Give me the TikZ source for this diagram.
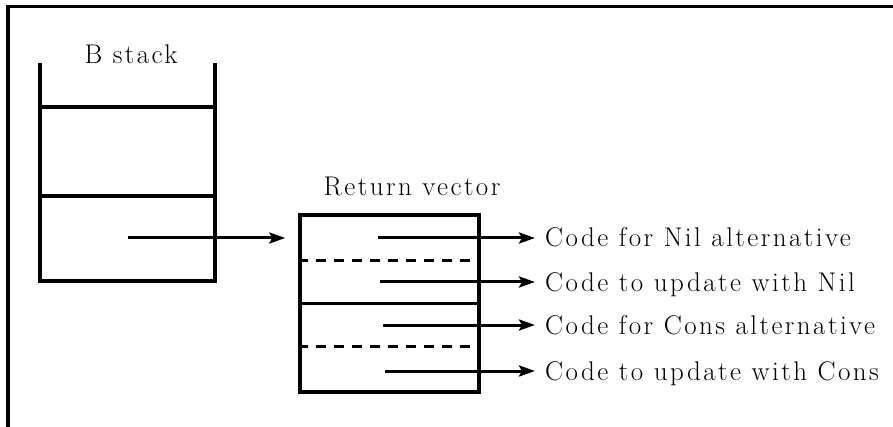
\documentclass[tikz,border=0pt]{standalone}
\usepackage{fontspec}
\setmainfont{Latin Modern Roman}[LetterSpace=9]
\usetikzlibrary{arrows.meta}
\begin{document}
\begin{tikzpicture}[x=1pt,y=-1pt,
  frameline/.style={line width=3.5pt},
  stackline/.style={line width=4pt},
  boxline/.style={line width=3.5pt},
  innersolid/.style={line width=3pt},
  innerdash/.style={line width=3pt, dash pattern=on 10pt off 8pt},
  arr/.style={line width=3pt, -{Stealth[length=16pt,width=11pt,inset=3pt]}},
  lbl/.style={inner sep=0pt, anchor=base west, font=\fontsize{27}{30}\selectfont},
  ttl/.style={inner sep=0pt, anchor=base, font=\fontsize{27}{30}\selectfont}]
\useasboundingbox (0,0) rectangle (893,427);
% frame
\draw[frameline] (8,427) -- (8,6.5) -- (893,6.5);
% B stack
\coordinate (stl) at (40,63);
\coordinate (str) at (215,63);
\coordinate (sbl) at (40,281);
\coordinate (sbr) at (215,281);
\draw[stackline, line join=miter] (stl) -- (sbl) -- (sbr) -- (str);
\draw[stackline] (40,107) -- (215,107);
\draw[stackline] (40,196) -- (215,196);
\node[ttl] (bstack) at (131,64) {B stack};
% return vector box
\node[draw, boxline, rectangle, inner sep=0pt, minimum width=179pt, minimum height=177pt] (rv) at (389.5,303.5) {};
\draw[innerdash] (rv.west |- 0,261) -- (rv.east |- 0,261);
\draw[innersolid] (rv.west |- 0,303) -- (rv.east |- 0,303);
\draw[innerdash] (rv.west |- 0,346) -- (rv.east |- 0,346);
\node[ttl] (rvt) at (412,196) {Return vector};
% stack to vector arrow
\coordinate (sp) at (128,238);
\draw[arr, shorten >=13pt] (sp) -- (sp -| rv.west);
% outgoing arrows
\coordinate (s1) at (378,238);
\coordinate (s2) at (380,282);
\coordinate (s3) at (383,325);
\coordinate (s4) at (385,371);
\coordinate (tipx) at (535,0);
\node[lbl] (l1) at (545,247) {Code for Nil alternative};
\node[lbl] (l2) at (545,291) {Code to update with Nil};
\node[lbl] (l3) at (545,334) {Code for Cons alternative};
\node[lbl] (l4) at (545,380) {Code to update with Cons};
\draw[arr] (s1) -- (s1 -| tipx);
\draw[arr] (s2) -- (s2 -| tipx);
\draw[arr] (s3) -- (s3 -| tipx);
\draw[arr] (s4) -- (s4 -| tipx);
\end{tikzpicture}
\end{document}
